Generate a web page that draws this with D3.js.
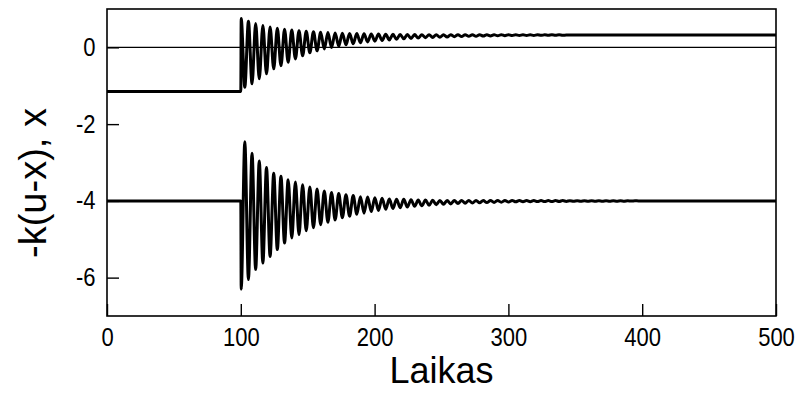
<!DOCTYPE html>
<html>
<head>
<meta charset="utf-8">
<script src="https://cdn.jsdelivr.net/npm/d3@7"></script>
<style>
  body { margin: 0; background: #fff; }
  text { font-family: "Liberation Sans", Arial, sans-serif; }
</style>
</head>
<body>
<div id="chart"></div>
<script>
// tick labels
var xTicks = [0, 100, 200, 300, 400, 500];
var yTicks = [-6, -4, -2, 0];

// step at t = 100, extrema follow every half period
var stepTime = 100;
var halfPeriod = 2.7;
var endTime = 500;

// x (lower curve): level before/after, then troughs and peaks
var xBefore = -4.0;
var xAfter = -4.0;
var xTroughs = [-6.30, -6.05, -5.79, -5.62, -5.45, -5.27, -5.10, -4.97, -4.88, -4.78,
                -4.70, -4.62, -4.56, -4.50, -4.44, -4.40, -4.35, -4.32, -4.28, -4.25,
                -4.22, -4.20, -4.18, -4.16, -4.14, -4.13, -4.115, -4.10, -4.09, -4.08,
                -4.07, -4.06, -4.055, -4.05, -4.045, -4.04, -4.035, -4.03, -4.025, -4.02,
                -4.02, -4.018, -4.017, -4.016, -4.015, -4.014, -4.013, -4.012, -4.011, -4.01,
                -4.01, -4.009, -4.008, -4.007, -4.006];
var xPeaks = [-2.46, -2.76, -2.96, -3.13, -3.28, -3.36, -3.45, -3.51, -3.58, -3.64,
              -3.69, -3.74, -3.78, -3.81, -3.84, -3.86, -3.89, -3.90, -3.92, -3.93,
              -3.95, -3.955, -3.96, -3.97, -3.98, -3.98, -3.985, -3.99, -3.99, -3.99,
              -3.99, -3.99, -3.99, -3.99, -3.99, -3.99, -3.99, -3.99, -3.99, -3.99,
              -3.99, -3.991, -3.992, -3.993, -3.993, -3.994, -3.994, -3.995, -3.995, -3.996,
              -3.996, -3.997, -3.997, -3.998, -3.998];

// -k(u-x) (upper curve)
var kBefore = -1.15;
var kAfter = 0.32;
var kPeaks = [0.75, 0.68, 0.62, 0.57, 0.53, 0.50, 0.47, 0.45, 0.43, 0.417,
              0.405, 0.394, 0.385, 0.377, 0.37, 0.364, 0.359, 0.354, 0.35, 0.346,
              0.343, 0.34, 0.338, 0.335, 0.333, 0.332, 0.331, 0.33, 0.33, 0.33,
              0.33, 0.33, 0.33, 0.33, 0.33, 0.33, 0.33, 0.33, 0.329, 0.329,
              0.328, 0.328, 0.327, 0.327, 0.326];
var kTroughs = [-1.04, -0.95, -0.82, -0.69, -0.56, -0.48, -0.39, -0.30, -0.22, -0.14,
                -0.09, -0.044, -0.003, 0.033, 0.066, 0.094, 0.119, 0.142, 0.162, 0.18,
                0.195, 0.21, 0.222, 0.233, 0.243, 0.252, 0.259, 0.266, 0.272, 0.277,
                0.282, 0.288, 0.292, 0.296, 0.299, 0.302, 0.305, 0.308, 0.31, 0.311,
                0.312, 0.313, 0.314, 0.314, 0.315];

var svgWidth = 795;
var svgHeight = 394;

var margin = { top: 9, right: 19, bottom: 78, left: 107 };

var width = svgWidth - margin.left - margin.right;
var height = svgHeight - margin.top - margin.bottom;

var svg = d3.select("#chart")
  .append("svg")
  .attr("width", svgWidth)
  .attr("height", svgHeight);

var chartGroup = svg.append("g")
  .attr("transform", `translate(${margin.left}, ${margin.top})`);

var xScale = d3.scaleLinear().domain([0, 500]).range([0, width]);
var yScale = d3.scaleLinear().domain([-7, 1]).range([height, 0]);

// build a series: flat, step, alternating extrema, flat
function buildSeries(before, after, first, second) {
  var pts = [[0, before], [stepTime, before]];
  var t = stepTime + 0.3;
  first.forEach(function(v, i) {
    pts.push([t, v]);
    t += halfPeriod;
    pts.push([t, second[i]]);
    t += halfPeriod;
  });
  pts.push([t, after]);
  pts.push([endTime, after]);
  return pts;
}

var xSeries = buildSeries(xBefore, xAfter, xTroughs, xPeaks);
var kSeries = buildSeries(kBefore, kAfter, kPeaks, kTroughs);

var line = d3.line()
  .x(d => xScale(d[0]))
  .y(d => yScale(d[1]))
  .curve(d3.curveMonotoneX);

// zero line
chartGroup.append("line")
  .attr("x1", 0).attr("x2", width)
  .attr("y1", yScale(0)).attr("y2", yScale(0))
  .attr("stroke", "black")
  .attr("stroke-width", 1.4);

[xSeries, kSeries].forEach(function(s) {
  chartGroup.append("path")
    .datum(s)
    .attr("d", line)
    .attr("fill", "none")
    .attr("stroke", "black")
    .attr("stroke-width", 3)
    .attr("stroke-linejoin", "round");
});

// axes with inward ticks, plain hyphen for minus
var bottomAxis = d3.axisBottom(xScale).tickValues(xTicks).tickFormat(d => String(d))
  .tickSizeInner(-12).tickSizeOuter(0).tickPadding(12);
var leftAxis = d3.axisLeft(yScale).tickValues(yTicks).tickFormat(d => String(d))
  .tickSizeInner(-12).tickSizeOuter(0).tickPadding(13);

var gx = chartGroup.append("g")
  .attr("transform", `translate(0, ${height})`)
  .call(bottomAxis);
var gy = chartGroup.append("g")
  .call(leftAxis);

[gx, gy].forEach(function(g) {
  g.select(".domain").remove();
  g.selectAll("line").attr("stroke", "black").attr("stroke-width", 1.4);
  // labels in the reference are a bit narrow
  g.selectAll("text")
    .attr("fill", "black")
    .attr("transform", "scale(0.88, 1)")
    .style("font-size", "25px")
    .style("font-family", "Liberation Sans, Arial, sans-serif");
});

// frame
chartGroup.append("rect")
  .attr("width", width)
  .attr("height", height)
  .attr("fill", "none")
  .attr("stroke", "black")
  .attr("stroke-width", 1.6);

// axis labels
svg.append("text")
  .attr("transform", `translate(${margin.left + width / 2}, 383)`)
  .attr("text-anchor", "middle")
  .style("font-size", "36px")
  .text("Laikas");

svg.append("text")
  .attr("transform", "translate(46, 183) rotate(-90)")
  .attr("text-anchor", "middle")
  .style("font-size", "38px")
  .text("-k(u-x), x");
</script>
</body>
</html>
